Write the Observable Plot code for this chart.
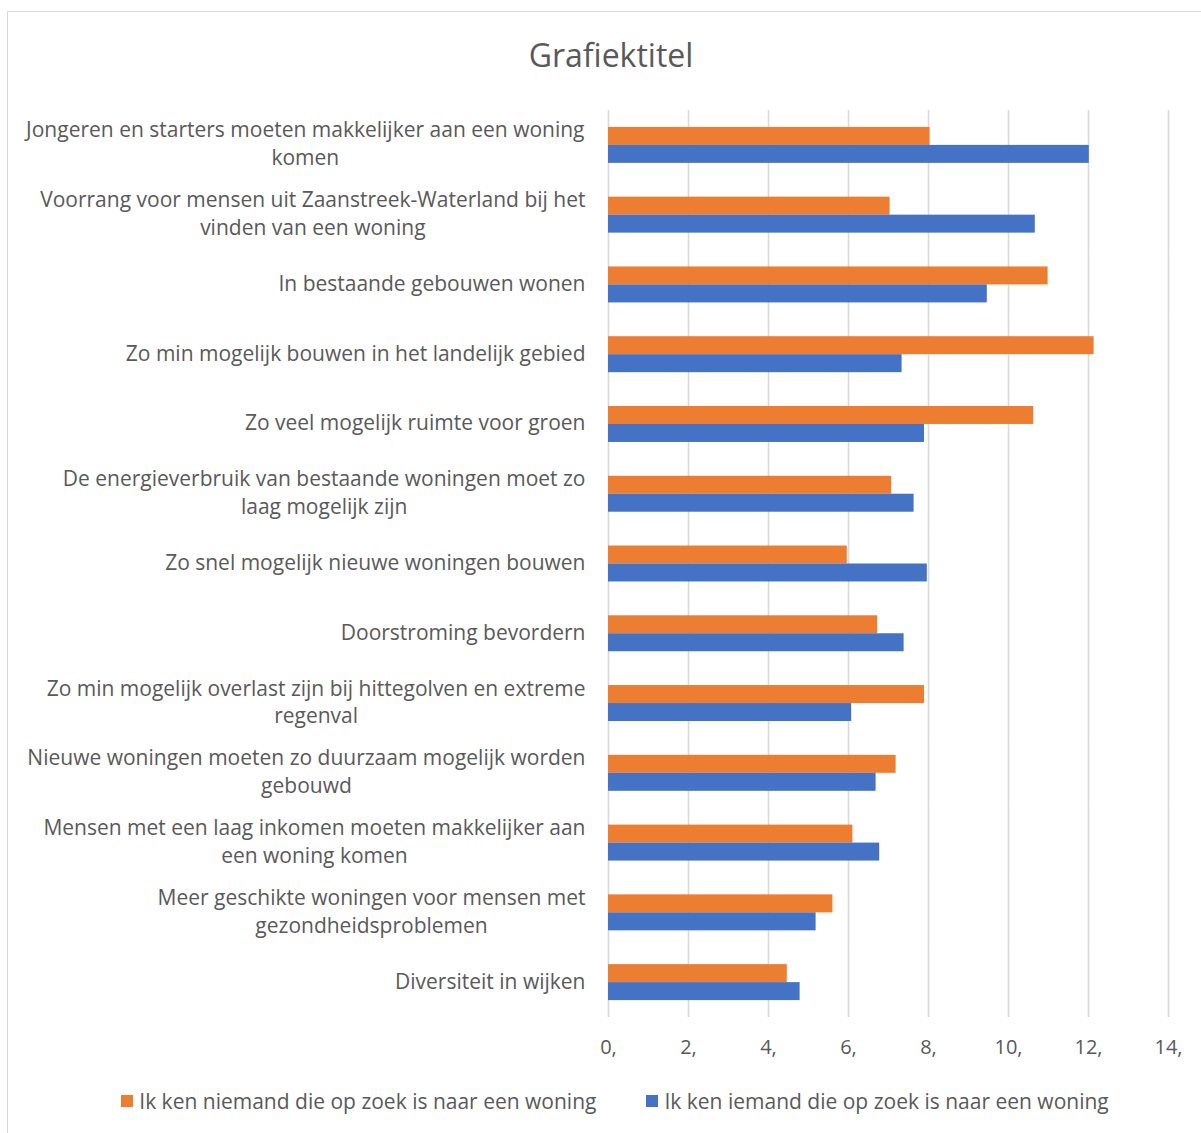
<!DOCTYPE html>
<html>
<head>
<meta charset="utf-8">
<script src="https://cdn.jsdelivr.net/npm/d3@7"></script>
<script src="https://cdn.jsdelivr.net/npm/@observablehq/plot@0.6"></script>
<style>
  html, body { margin: 0; padding: 0; background: #fff; }
  body { width: 1201px; height: 1133px; overflow: hidden; position: relative; font-family: "Open Sans", sans-serif; color: #595959; }
  #frame { position: absolute; left: 7px; top: 11px; width: 1220px; height: 1140px; border: 1.5px solid #D9D9D9; box-sizing: border-box; }
  #title { position: absolute; left: 0; width: 1222px; top: 35px; text-align: center; font-size: 32px; line-height: 40px; color: #595959; }
  #chart { position: absolute; left: 0; top: 100px; line-height: 0; }
  #chart svg { display: block; }
  #legend { position: absolute; left: 0; width: 1230px; top: 1086px; display: flex; justify-content: center; gap: 50px; font-size: 21px; line-height: 30px; color: #595959; }
  .item { display: flex; align-items: center; }
  .sw { width: 12px; height: 12px; margin-right: 6px; display: inline-block; }
</style>
</head>
<body>
<div id="frame"></div>
<div id="title">Grafiektitel</div>
<div id="chart"></div>
<div id="legend"></div>
<script>
const categories = [
  "Jongeren en starters moeten makkelijker aan een woning\nkomen",
  "Voorrang voor mensen uit Zaanstreek-Waterland bij het\nvinden van een woning",
  "In bestaande gebouwen wonen",
  "Zo min mogelijk bouwen in het landelijk gebied",
  "Zo veel mogelijk ruimte voor groen",
  "De energieverbruik van bestaande woningen moet zo\nlaag mogelijk zijn",
  "Zo snel mogelijk nieuwe woningen bouwen",
  "Doorstroming bevordern",
  "Zo min mogelijk overlast zijn bij hittegolven en extreme\nregenval",
  "Nieuwe woningen moeten zo duurzaam mogelijk worden\ngebouwd",
  "Mensen met een laag inkomen moeten makkelijker aan\neen woning komen",
  "Meer geschikte woningen voor mensen met\ngezondheidsproblemen",
  "Diversiteit in wijken"
];
const seriesNames = [
  "Ik ken niemand die op zoek is naar een woning",
  "Ik ken iemand die op zoek is naar een woning"
];
const niemandValues = [8.04, 7.04, 10.99, 12.14, 10.63, 7.08, 5.97, 6.73, 7.90, 7.19, 6.11, 5.61, 4.47];
const iemandValues  = [12.02, 10.67, 9.47, 7.34, 7.90, 7.64, 7.97, 7.39, 6.08, 6.69, 6.78, 5.19, 4.79];
const seriesColors = ["#ED7D31", "#4472C4"];
const xTicks = [0, 2, 4, 6, 8, 10, 12, 14];
const xTickLabels = ["0,", "2,", "4,", "6,", "8,", "10,", "12,", "14,"];

const rows = [];
categories.forEach((c, i) => {
  rows.push({category: c, series: seriesNames[0], value: niemandValues[i]});
  rows.push({category: c, series: seriesNames[1], value: iemandValues[i]});
});

const chart = Plot.plot({
  width: 1201,
  height: 967,
  marginLeft: 608,
  marginRight: 33,
  marginTop: 10,
  marginBottom: 50,
  style: {fontFamily: "'Open Sans', sans-serif", color: "#595959", background: "transparent"},
  fy: {domain: categories, padding: 0, round: false, axis: null},
  y: {domain: seriesNames, paddingInner: 0, paddingOuter: 0.94, round: false, axis: null},
  x: {domain: [0, 14], axis: null},
  color: {domain: seriesNames, range: seriesColors},
  marks: [
    Plot.ruleX(xTicks, {x: d => d, stroke: "#D9D9D9", strokeWidth: 1.6, strokeOpacity: 1}),
    Plot.barX(rows, {fy: "category", y: "series", x: "value", fill: "series"}),
    Plot.text(categories, {fy: d => d, text: d => d, frameAnchor: "left", textAnchor: "end", dx: -23, dy: -3, fontSize: 21, lineHeight: 1.33, fill: "#595959", className: "ylab"}),
    Plot.axisX({ticks: xTicks, tickFormat: d => xTickLabels[xTicks.indexOf(d)], tickSize: 0, tickPadding: 22, fontSize: 20, fill: "#595959", anchor: "bottom", label: null})
  ]
});
document.getElementById("chart").appendChild(chart);

// center multi-line label blocks (Excel style), keeping block right-aligned
chart.querySelectorAll("g.ylab text").forEach(t => {
  const spans = t.querySelectorAll("tspan");
  if (spans.length > 1) {
    const w = t.getBBox().width;
    t.setAttribute("text-anchor", "middle");
    spans.forEach(s => s.setAttribute("x", -w / 2));
  }
});

const legend = document.getElementById("legend");
seriesNames.forEach((n, i) => {
  const it = document.createElement("div");
  it.className = "item";
  const sw = document.createElement("span");
  sw.className = "sw";
  sw.style.background = seriesColors[i];
  it.appendChild(sw);
  it.appendChild(document.createTextNode(n));
  legend.appendChild(it);
});
</script>
</body>
</html>
